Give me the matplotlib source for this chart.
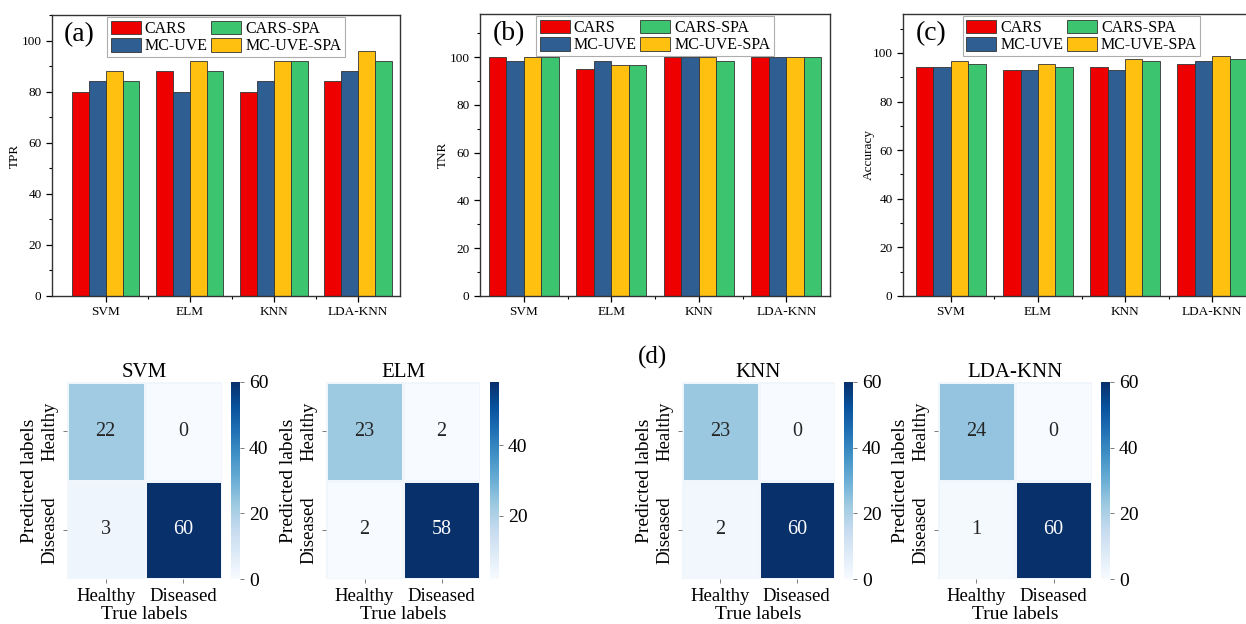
import numpy as np
import matplotlib
matplotlib.use("Agg")
import matplotlib.pyplot as plt
from matplotlib.patches import Patch
from matplotlib.ticker import MultipleLocator, FixedLocator
import seaborn as sns

plt.rcParams['font.family'] = ['Liberation Serif', 'DejaVu Serif']

# classifiers and feature-selection methods
models = ['SVM', 'ELM', 'KNN', 'LDA-KNN']
methods = ['CARS', 'MC-UVE', 'MC-UVE-SPA', 'CARS-SPA']
colors = ['#EE0000', '#2E5E92', '#FFC010', '#3DC46E']

# rows follow `methods`, columns follow `models`
tpr = [[80, 88, 80, 84],
       [84, 80, 84, 88],
       [88, 92, 92, 96],
       [84, 88, 92, 92]]
tnr = [[100, 95.0, 100, 100],
       [98.3, 98.3, 100, 100],
       [100, 96.7, 100, 100],
       [100, 96.7, 98.3, 100]]
acc = [[94.1, 92.9, 94.1, 95.3],
       [94.1, 92.9, 92.9, 96.5],
       [96.5, 95.3, 97.6, 98.8],
       [95.3, 94.1, 96.5, 97.6]]

# confusion matrices (rows: predicted Healthy/Diseased, cols: true)
cm_labels = ['Healthy', 'Diseased']
cm_svm = [[22, 0], [3, 60]]
cm_elm = [[23, 2], [2, 58]]
cm_knn = [[23, 0], [2, 60]]
cm_lda = [[24, 0], [1, 60]]

W, H = 1246, 624
fig = plt.figure(figsize=(W / 100, H / 100), dpi=100)


def px(l, t, r, b):
    return [l / W, 1 - b / H, (r - l) / W, (b - t) / H]


bar_panels = [
    (px(52, 15, 400, 296), tpr, 'TPR', '(a)', (-0.64, 3.5), 110, 21),
    (px(480, 14, 830, 296), tnr, 'TNR', '(b)', (-0.5, 3.5), 118, 449),
    (px(903, 14, 1260, 296), acc, 'Accuracy', '(c)', (-0.55, 3.55), 116, 875),
]

x = np.arange(len(models))
bw = 0.2
for rect, vals, ylab, tag, xl, ytop, ylab_x in bar_panels:
    ax = fig.add_axes(rect)
    for i, m in enumerate(methods):
        ax.bar(x + (i - 1.5) * bw, vals[i], bw, color=colors[i],
               edgecolor='#333333', linewidth=0.6, label=m)
    ax.set_xlim(*xl)
    ax.set_ylim(0, ytop)
    ax.set_xticks(x)
    ax.set_xticklabels(models, fontsize=9.5)
    ax.xaxis.set_minor_locator(FixedLocator([0.5, 1.5, 2.5]))
    ax.yaxis.set_major_locator(MultipleLocator(20))
    ax.yaxis.set_minor_locator(MultipleLocator(10))
    ax.tick_params(axis='both', which='major', direction='out', length=4,
                   width=0.9, labelsize=9.5)
    ax.tick_params(axis='both', which='minor', direction='out', length=2,
                   width=0.8)
    for s in ax.spines.values():
        s.set_linewidth(1.0)
        s.set_color('#333333')
    ax.set_ylabel(ylab, fontsize=9.5)
    ax.yaxis.set_label_coords((ylab_x - rect[0] * W) / (rect[2] * W), 0.5)
    ax.text(0.035, 0.975, tag, transform=ax.transAxes, fontsize=20,
            va='top', ha='left')
    handles = [Patch(facecolor=colors[i], edgecolor='#333333', linewidth=0.6)
               for i in [0, 1, 3, 2]]
    names = [methods[i] for i in [0, 1, 3, 2]]
    leg = ax.legend(handles, names, loc='upper center', ncol=2, fontsize=11.5,
                    frameon=True, fancybox=False, edgecolor='#999999',
                    borderaxespad=0.15, handlelength=1.9, handleheight=0.95,
                    handletextpad=0.25, columnspacing=0.2, labelspacing=0.05,
                    borderpad=0.2)
    leg.get_frame().set_linewidth(0.8)

# confusion-matrix heatmaps
cm_panels = [
    ('SVM', cm_svm, 67, 222, 231),
    ('ELM', cm_elm, 326, 480, 490),
    ('KNN', cm_knn, 682, 835, 844),
    ('LDA-KNN', cm_lda, 938, 1092, 1101),
]
for title, cm, l, r, cl in cm_panels:
    ax = fig.add_axes(px(l, 382, r, 579))
    cax = fig.add_axes(px(cl, 382, cl + 9, 579))
    sns.heatmap(np.array(cm), annot=True, fmt='d', cmap='Blues', ax=ax,
                cbar_ax=cax, linewidths=0.8, linecolor='#f0f6fc',
                xticklabels=cm_labels, yticklabels=cm_labels,
                annot_kws={'fontsize': 14.5})
    ax.set_title(title, fontsize=15, pad=3)
    ax.set_xlabel('True labels', fontsize=14, labelpad=0.5)
    ax.set_ylabel('Predicted labels', fontsize=14, labelpad=2)
    ax.tick_params(axis='both', labelsize=13.5, length=3, width=0.6,
                   color='#666666')
    ax.set_yticklabels(cm_labels, rotation=90, va='center')
    cax.tick_params(labelsize=14, length=3, width=0.6, color='#666666')
    cax.yaxis.set_major_locator(MultipleLocator(20))

fig.text(638 / W, 1 - 357 / H, '(d)', fontsize=18, va='center', ha='left')

fig.savefig('out.png', dpi=100)
